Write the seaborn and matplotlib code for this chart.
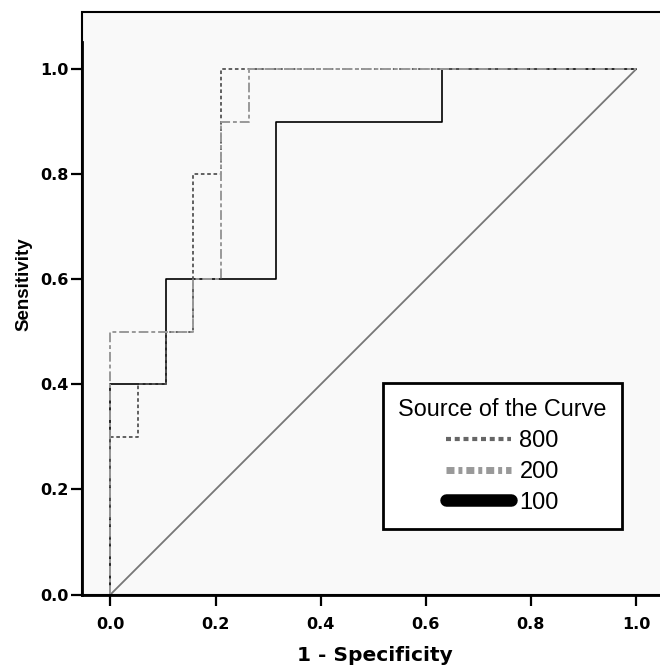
import numpy as np
import pandas as pd
import matplotlib
matplotlib.use("Agg")
import matplotlib.pyplot as plt
from matplotlib.lines import Line2D
from matplotlib.patches import Rectangle
import seaborn as sns

# ROC corner points (1 - specificity, sensitivity) for each source
fpr_800 = [0.0, 0.0, 0.0526, 0.0526, 0.1053, 0.1053, 0.1579, 0.1579, 0.2105, 0.2105, 1.0]
tpr_800 = [0.0, 0.3, 0.3, 0.4, 0.4, 0.5, 0.5, 0.8, 0.8, 1.0, 1.0]

fpr_200 = [0.0, 0.0, 0.1579, 0.1579, 0.2105, 0.2105, 0.2632, 0.2632, 1.0]
tpr_200 = [0.0, 0.5, 0.5, 0.6, 0.6, 0.9, 0.9, 1.0, 1.0]

fpr_100 = [0.0, 0.0, 0.1053, 0.1053, 0.3158, 0.3158, 0.6316, 0.6316, 1.0]
tpr_100 = [0.0, 0.4, 0.4, 0.6, 0.6, 0.9, 0.9, 1.0, 1.0]

ref_line = [0.0, 1.0]

legend_title = "Source of the Curve"
sources = ["800", "200", "100"]
tick_vals = [0.0, 0.2, 0.4, 0.6, 0.8, 1.0]

sns.set_style("white")
plt.rcParams["font.family"] = ["Liberation Sans", "DejaVu Sans"]
plt.rcParams["text.color"] = "black"

fig = plt.figure(figsize=(6.6, 6.68), dpi=100)
ax = fig.add_axes([0.1242, 0.110, 0.8758, 0.8725])
ax.set_facecolor("#f9f9f9")

# reference diagonal
sns.lineplot(x=ref_line, y=ref_line, ax=ax, color="#777777", linewidth=1.3,
             sort=False, estimator=None)

sns.lineplot(x=fpr_100, y=tpr_100, ax=ax, color="black", linewidth=1.2,
             sort=False, estimator=None)
sns.lineplot(x=fpr_800, y=tpr_800, ax=ax, color="#555555", linewidth=1.3,
             linestyle=(0, (2, 1.5)), sort=False, estimator=None)
sns.lineplot(x=fpr_200, y=tpr_200, ax=ax, color="#999999", linewidth=1.4,
             linestyle=(0, (5, 1.5, 2, 1.5)), sort=False, estimator=None)

ax.set_xlim(-0.0542, 1.0457)
ax.set_ylim(0, 1.1097)
ax.set_xticks(tick_vals)
ax.set_yticks(tick_vals)
tick_font = dict(family="DejaVu Sans", fontsize=11.5, fontweight="bold", color="black")
ax.set_xticklabels([f"{v:.1f}" for v in tick_vals], **tick_font)
ax.set_yticklabels([f"{v:.1f}" for v in tick_vals], **tick_font)
ax.tick_params(axis="x", direction="out", length=8, width=1.6, pad=8,
               bottom=True, color="black")
ax.tick_params(axis="y", direction="out", length=8, width=1.6, pad=1.5,
               left=True, color="black")

ax.set_xlabel("1 - Specificity", family="DejaVu Sans", fontsize=14.5,
              fontweight="bold", color="black")
ax.set_ylabel("Sensitivity", fontsize=13.5, fontweight="bold", color="black")
ax.xaxis.set_label_coords(0.506, -0.0884)
ax.yaxis.set_label_coords(-0.0848, 0.532)

for side in ["top", "right"]:
    ax.spines[side].set_visible(False)
ax.spines["left"].set_linewidth(2.0)
ax.spines["left"].set_bounds(0, 1.052)
ax.spines["bottom"].set_linewidth(2.0)
ax.spines["left"].set_color("black")
ax.spines["bottom"].set_color("black")

# outer chart frame
ax.add_patch(Rectangle((0, 0), 1.2, 1.0, transform=ax.transAxes, fill=False,
                       edgecolor="black", linewidth=1.5, clip_on=False, zorder=5))

handles = [
    Line2D([], [], color="#666666", linewidth=3, linestyle=(0, (1.2, 0.9))),
    Line2D([], [], color="#999999", linewidth=5, linestyle=(0, (1.15, 0.57, 0.57, 0.57))),
    Line2D([], [], color="black", linewidth=9, solid_capstyle="round"),
]
leg = ax.legend(handles, sources, title=legend_title, loc="upper left",
                bbox_to_anchor=(0.5208, 0.3629), borderaxespad=0, frameon=True,
                fancybox=False, fontsize=17, title_fontsize=16.8, handlelength=2.75,
                handletextpad=0.35, labelspacing=0.37, borderpad=0.65)
leg.get_frame().set_edgecolor("black")
leg.get_frame().set_linewidth(2.0)
leg.get_frame().set_facecolor("white")
leg.get_frame().set_alpha(1)

fig.savefig("out.png", dpi=100)
